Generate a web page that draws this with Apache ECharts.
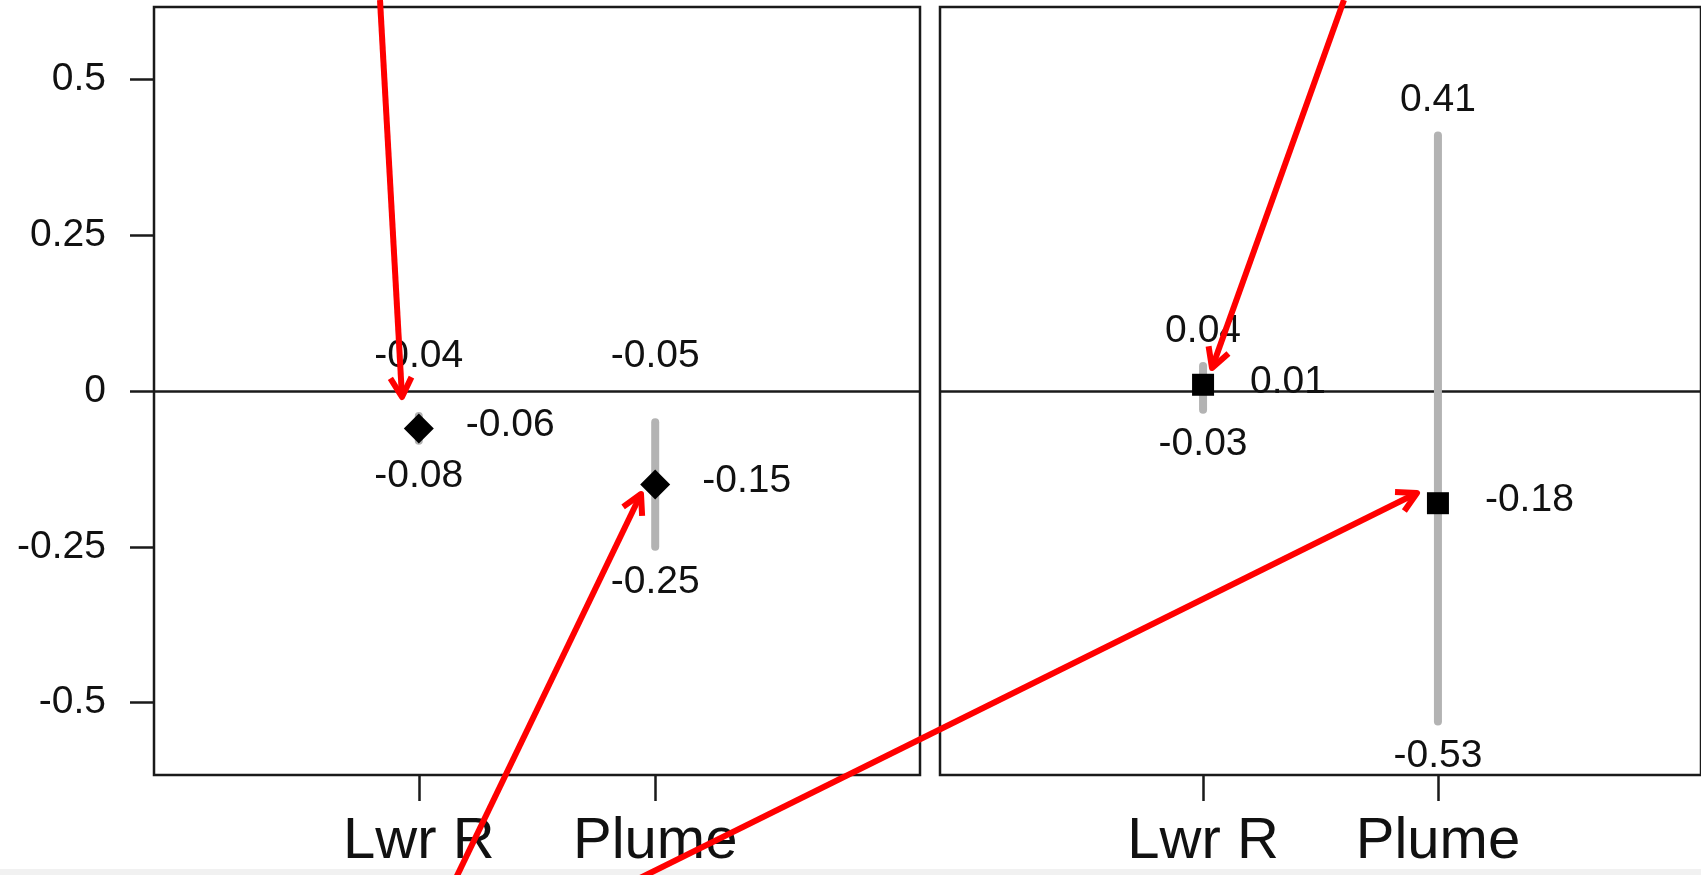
<!DOCTYPE html>
<html>
<head>
<meta charset="utf-8">
<title>Lwr R / Plume</title>
<script src="https://cdn.jsdelivr.net/npm/echarts@6.0.0/dist/echarts.min.js"></script>
<style>
html, body { margin: 0; padding: 0; background: #fff; }
#main { width: 1701px; height: 875px; }
</style>
</head>
<body>
<div id="main"></div>
<script>
var sites = ['Lwr R', 'Plume'];
var sitePos = [1, 2];
var yTicks = [-0.5, -0.25, 0, 0.25, 0.5];

// left panel (diamonds)
var leftEst = [-0.06, -0.15];
var leftLo = [-0.08, -0.25];
var leftHi = [-0.04, -0.05];

// right panel (squares)
var rightEst = [0.01, -0.18];
var rightLo = [-0.03, -0.53];
var rightHi = [0.04, 0.41];

// red annotation arrows drawn over the chart: start x, start y, tip x, tip y (px)
var arrows = [
  [380, 0, 402, 397],
  [455, 880, 641, 494],
  [636, 880, 1417, 493],
  [1344, 0, 1212, 368]
];

var FONT = '"Liberation Sans", Arial, Helvetica, sans-serif';
var INK = '#111';
var LINE = '#1a1a1a';

function rows(est, lo, hi) {
  return sitePos.map(function (x, i) { return [x, est[i], lo[i], hi[i]]; });
}

function fmt(v) { return v.toFixed(2); }

function label(str, x, y, align) {
  return {
    type: 'text', x: x, y: y,
    style: { text: str, fill: INK, fontSize: 39, fontFamily: FONT, align: align, verticalAlign: 'middle' }
  };
}

function makeRender(shape) {
  return function (params, api) {
    var x = api.value(0), est = api.value(1), lo = api.value(2), hi = api.value(3);
    var p = api.coord([x, est]);
    var pLo = api.coord([x, lo]);
    var pHi = api.coord([x, hi]);
    var pTop = api.coord([x, Math.max(hi, 0)]);
    var kids = [];
    kids.push({
      type: 'line',
      shape: { x1: p[0], y1: pHi[1], x2: p[0], y2: pLo[1] },
      style: { stroke: '#b3b3b3', lineWidth: 8, lineCap: 'round' }
    });
    if (shape === 'diamond') {
      kids.push({
        type: 'polygon',
        shape: { points: [[p[0], p[1] - 15], [p[0] + 15, p[1]], [p[0], p[1] + 15], [p[0] - 15, p[1]]] },
        style: { fill: '#000' }
      });
    } else {
      kids.push({
        type: 'rect',
        shape: { x: p[0] - 11, y: p[1] - 11, width: 22, height: 22 },
        style: { fill: '#000' }
      });
    }
    kids.push(label(fmt(hi), p[0], pTop[1] - 35, 'center'));
    kids.push(label(fmt(lo), p[0], pLo[1] + 35, 'center'));
    kids.push(label(fmt(est), p[0] + 47, p[1] - 3, 'left'));
    return { type: 'group', children: kids };
  };
}

function xAxisFor(i) {
  return {
    gridIndex: i, type: 'value', min: -0.12, max: 3.12,
    axisLine: { show: false, onZero: false },
    splitLine: { show: false },
    axisTick: { show: true, customValues: sitePos, length: 26, lineStyle: { color: LINE, width: 2.5 } },
    axisLabel: {
      show: true, customValues: sitePos, margin: 38,
      fontSize: 58, fontFamily: FONT, color: INK,
      formatter: function (v) { return sites[sitePos.indexOf(v)]; }
    }
  };
}

function zeroLine() {
  return {
    silent: true, symbol: 'none', z: 1,
    label: { show: false },
    lineStyle: { color: LINE, width: 2.5, type: 'solid' },
    data: [{ yAxis: 0 }]
  };
}

var graphics = [{
  type: 'rect', z: 0,
  shape: { x: 0, y: 869, width: 1701, height: 6 },
  style: { fill: '#f1f1f1' }
}];
arrows.forEach(function (a) {
  var ang = Math.atan2(a[3] - a[1], a[2] - a[0]);
  var L = 22, w = 0.5;
  var w1 = [a[2] - L * Math.cos(ang - w), a[3] - L * Math.sin(ang - w)];
  var w2 = [a[2] - L * Math.cos(ang + w), a[3] - L * Math.sin(ang + w)];
  graphics.push({
    type: 'line', z: 100,
    shape: { x1: a[0], y1: a[1], x2: a[2], y2: a[3] },
    style: { stroke: '#ff0000', lineWidth: 6 }
  });
  graphics.push({
    type: 'polyline', z: 100,
    shape: { points: [w1, [a[2], a[3]], w2] },
    style: { stroke: '#ff0000', lineWidth: 6, fill: null, lineJoin: 'round' }
  });
});

var chart = echarts.init(document.getElementById('main'));
chart.setOption({
  animation: false,
  backgroundColor: '#fff',
  grid: [
    { left: 154, top: 7, width: 766, height: 768, show: true, borderColor: LINE, borderWidth: 2.5, backgroundColor: 'transparent' },
    { left: 940, top: 7, width: 770, height: 768, show: true, borderColor: LINE, borderWidth: 2.5, backgroundColor: 'transparent' }
  ],
  xAxis: [xAxisFor(0), xAxisFor(1)],
  yAxis: [
    {
      gridIndex: 0, type: 'value', min: -0.616, max: 0.616,
      axisLine: { show: false, onZero: false },
      splitLine: { show: false },
      axisTick: { show: true, customValues: yTicks, length: 24, lineStyle: { color: LINE, width: 2.5 } },
      axisLabel: { show: true, customValues: yTicks, margin: 48, fontSize: 39, fontFamily: FONT, color: INK }
    },
    {
      gridIndex: 1, type: 'value', min: -0.616, max: 0.616,
      axisLine: { show: false, onZero: false }, axisTick: { show: false }, axisLabel: { show: false }, splitLine: { show: false }
    }
  ],
  series: [
    {
      type: 'custom', name: 'left', xAxisIndex: 0, yAxisIndex: 0, z: 5, clip: false,
      renderItem: makeRender('diamond'),
      data: rows(leftEst, leftLo, leftHi),
      markLine: zeroLine()
    },
    {
      type: 'custom', name: 'right', xAxisIndex: 1, yAxisIndex: 1, z: 5, clip: false,
      renderItem: makeRender('square'),
      data: rows(rightEst, rightLo, rightHi),
      markLine: zeroLine()
    }
  ],
  graphic: graphics
});
</script>
</body>
</html>
